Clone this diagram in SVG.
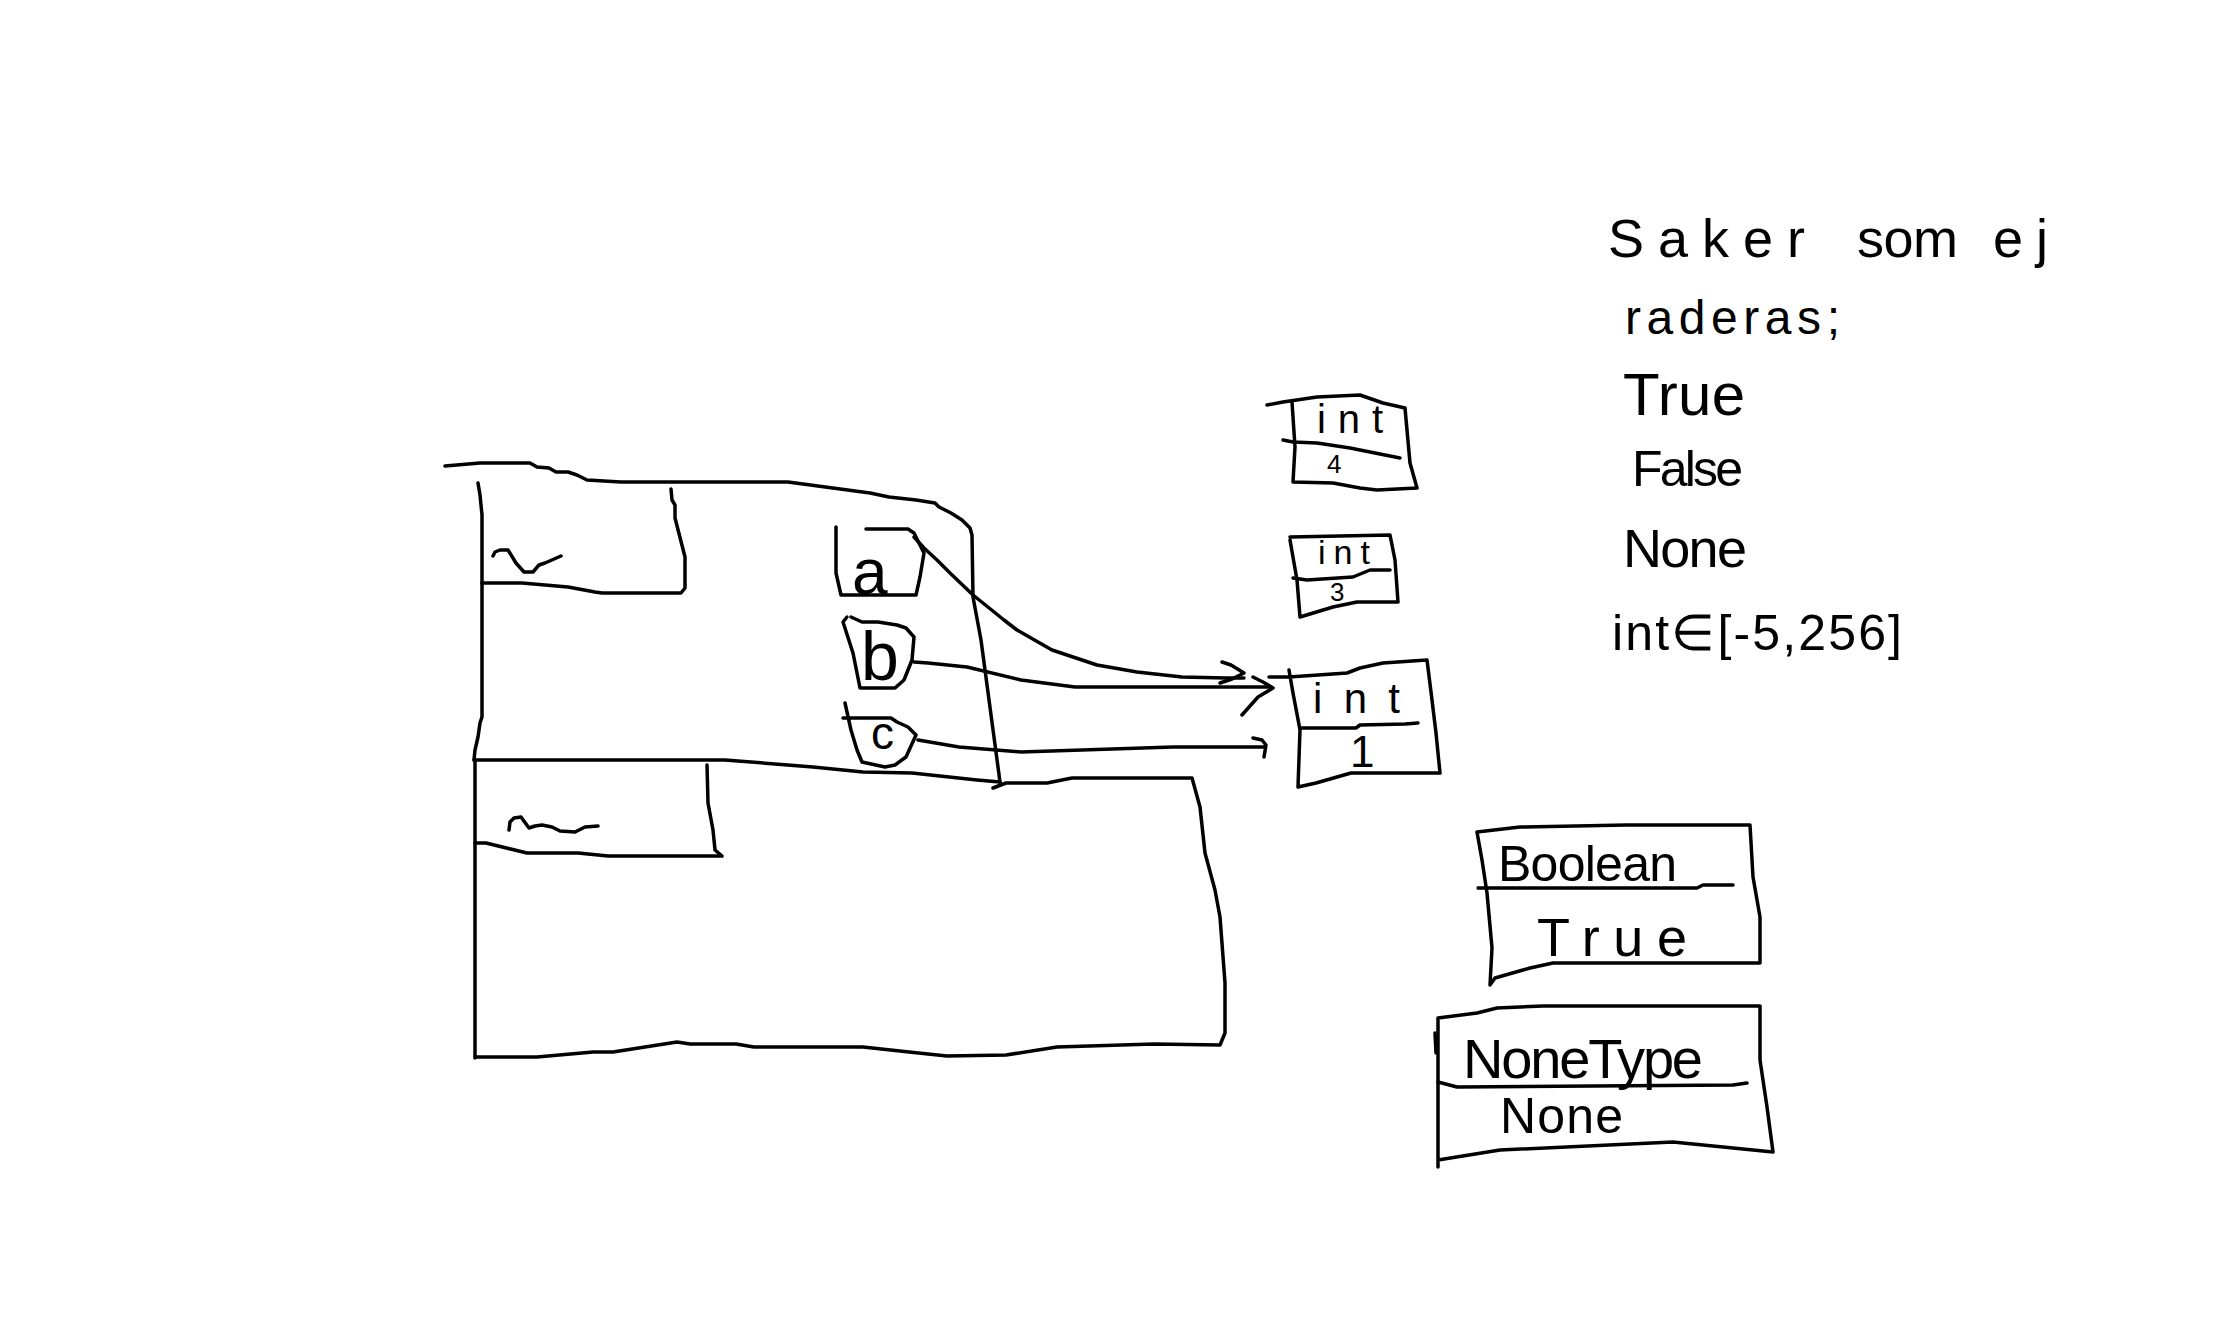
<svg xmlns="http://www.w3.org/2000/svg" width="2216" height="1342" viewBox="0 0 2216 1342">
<style>
.s{fill:none;stroke:#000;stroke-width:3.5;stroke-linecap:round;stroke-linejoin:round}
.t{font-family:"Liberation Sans",Arial,sans-serif;fill:#000}
</style>
<rect width="2216" height="1342" fill="#fff"/>
<g id="frame1">
<path class="s" d="M445,466 L480,463 L530,463 L537,467 L549,468 L556,472 L568,472 L577,475 L587,480 L621,482 L788,482 L870,493 L889,497 L916,500 L935,503 L939,507 L951,513 L962,520 L970,528 L972,535 L973,597 L981,640 L1000,782"/>
<path class="s" d="M478,483 L480,495 L482,515 L482,717 L480,723 L478,737 L475,750 L474,760"/>
<path class="s" d="M474,760 L725,760 L813,767 L863,772 L912,773 L977,780 L1000,782"/>
<path class="s" d="M671,489 L672,500 L675,505 L675,518 L685,557 L685,588 L681,593 L602,593 L595,592 L568,587 L522,583 L482,583"/>
<path class="s" d="M493,556 L495,552 L500,550 L508,550 L516,563 L524,572 L533,572 L539,565 L545,563 L561,556"/>
</g>
<g id="frame2">
<path class="s" d="M993,788 L1006,783 L1047,783 L1072,778 L1192,778 L1200,807 L1205,853 L1215,890 L1220,917 L1225,983 L1225,1033 L1220,1045 L1154,1044 L1057,1047 L1006,1055 L947,1056 L909,1052 L863,1047 L754,1047 L736,1044 L690,1044 L677,1042 L613,1052 L593,1052 L537,1057 L475,1057"/>
<path class="s" d="M475,760 L475,1058"/>
<path class="s" d="M707,765 L708,803 L713,830 L715,850 L722,856 L608,856 L578,853 L527,853 L486,843 L475,843"/>
<path class="s" d="M509,830 L510,822 L514,818 L521,817 L529,828 L535,826 L542,825 L552,827 L560,831 L575,832 L585,827 L598,826"/>
</g>
<g id="var-a">
<path class="s" d="M836,527 L836,573 L841,595 L916,595 L920,577 L924,553 L918,541 L914,533 L908,529 L866,529"/>
<text class="t" x="852" y="594" font-size="64">a</text>
</g>
<g id="var-b">
<path class="s" d="M847,617 L843,622 L853,653 L857,673 L860,688 L895,688 L904,680 L908,670 L912,660 L914,637 L906,628 L897,625 L878,622 L862,622 L851,617"/>
<text class="t" x="861" y="680" font-size="68">b</text>
</g>
<g id="var-c">
<path class="s" d="M845,703 L851,730 L857,750 L862,762 L885,767 L895,765 L906,757 L916,735 L908,727 L897,722 L891,718 L843,718"/>
<text class="t" x="871" y="749" font-size="46">c</text>
</g>
<g id="int4">
<path class="s" d="M1267,405 L1283,402 L1317,397 L1360,395 L1383,403 L1405,408 L1410,463 L1417,488 L1377,490 L1360,488 L1333,483 L1293,482 L1295,447 L1292,402"/>
<path class="s" d="M1283,440 L1293,442 L1317,443 L1350,448 L1400,458"/>
<text class="t" x="1317" y="433" font-size="40" textLength="66">int</text>
<text class="t" x="1327" y="473" font-size="26">4</text>
</g>
<g id="int3">
<path class="s" d="M1290,537 L1390,535 L1395,560 L1398,602 L1357,602 L1333,607 L1300,617 L1297,580 L1290,540"/>
<path class="s" d="M1293,578 L1307,580 L1353,577 L1370,570 L1390,570"/>
<text class="t" x="1318" y="564" font-size="34" textLength="52">int</text>
<text class="t" x="1330" y="601" font-size="26">3</text>
</g>
<g id="int1">
<path class="s" d="M1269,677 L1289,677 L1347,673 L1360,668 L1383,663 L1427,660 L1432,700 L1436,733 L1440,773 L1351,773 L1316,783 L1298,787 L1300,730 L1293,693 L1289,670"/>
<path class="s" d="M1300,728 L1356,728 L1360,725 L1405,724 L1418,723"/>
<text class="t" x="1313" y="713" font-size="42" textLength="87">int</text>
<text class="t" x="1350" y="767" font-size="44">1</text>
</g>
<g id="boolean-true">
<path class="s" d="M1477,832 L1520,827 L1627,825 L1750,825 L1753,877 L1760,917 L1760,963 L1553,963 L1530,968 L1495,978 L1490,985 L1492,948 L1487,893 L1482,860 L1477,832"/>
<path class="s" d="M1478,888 L1697,888 L1703,885 L1733,885"/>
<text class="t" x="1498" y="881" font-size="50" textLength="179">Boolean</text>
<text class="t" x="1537" y="956" font-size="54" textLength="150">True</text>
</g>
<g id="nonetype-none">
<path class="s" d="M1438,1018 L1477,1013 L1497,1008 L1543,1006 L1760,1006 L1760,1060 L1767,1107 L1773,1152 L1673,1142 L1500,1150 L1438,1160 L1438,1167 L1438,1018"/>
<path class="s" d="M1435,1033 L1436,1053"/>
<path class="s" d="M1438,1082 L1457,1087 L1733,1085 L1747,1083"/>
<text class="t" x="1463" y="1078" font-size="56" textLength="240">NoneType</text>
<text class="t" x="1500" y="1133" font-size="50" textLength="123">None</text>
</g>
<g id="notes">
<text class="t" y="257" font-size="54"><tspan x="1608" textLength="197">Saker</tspan> <tspan x="1857" textLength="101">som</tspan> <tspan x="1993" textLength="55">ej</tspan></text>
<text class="t" x="1625" y="334" font-size="48" textLength="215">raderas;</text>
<text class="t" x="1623" y="415" font-size="60" textLength="122">True</text>
<text class="t" x="1632" y="486" font-size="50" textLength="111">False</text>
<text class="t" x="1623" y="567" font-size="54" textLength="124">None</text>
<text class="t" x="1612" y="650" font-size="50" textLength="290">int∈[-5,256]</text>
</g>
<g id="connectors">
<path class="s" d="M914,537 L924,548 L937,560 L950,573 L973,595 L1004,620 L1017,630 L1052,650 L1097,665 L1137,672 L1182,677 L1226,678 L1244,678"/>
<path class="s" d="M1222,662 L1231,665 L1244,673 L1232,679 L1220,683"/>
<path class="s" d="M914,662 L928,663 L967,667 L1021,680 L1075,687 L1106,687 L1271,687"/>
<path class="s" d="M1253,677 L1263,682 L1273,688 L1258,697 L1242,715"/>
<path class="s" d="M918,740 L959,747 L1021,752 L1173,747 L1264,747"/>
<path class="s" d="M1253,738 L1262,740 L1266,745 L1264,757"/>
</g>
</svg>
